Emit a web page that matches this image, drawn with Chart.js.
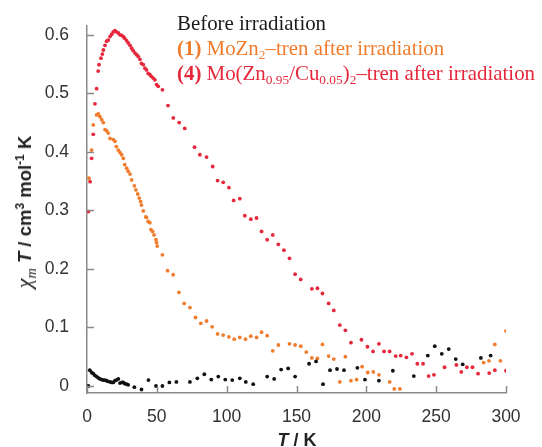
<!DOCTYPE html>
<html>
<head>
<meta charset="utf-8">
<script src="https://cdn.jsdelivr.net/npm/chart.js@4/dist/chart.umd.min.js"></script>
<style>
  body { margin: 0; background: #fff; }
  #wrap { position: relative; width: 542px; height: 447px; }
  .legend { position: absolute; left: 177px; top: 11px; font-family: 'Liberation Serif', serif; font-size: 20.9px; line-height: 25px; white-space: nowrap; }
  .legend sub { font-size: 0.64em; vertical-align: -0.3em; line-height: 0; }
  .ytitle { position: absolute; left: 24px; top: 212px; transform: translate(-50%, -50%) rotate(-90deg); white-space: nowrap; font: bold 18.5px 'Liberation Sans', sans-serif; color: #222; }
  .ytitle sup { font-size: 0.65em; vertical-align: 0.55em; line-height: 0; }
  .ytitle sub { font-size: 0.65em; vertical-align: -0.35em; line-height: 0; }
  .chi { font-family: 'Liberation Serif', serif; font-weight: normal; font-style: italic; font-size: 22px; }
  .xtitle { position: absolute; left: 297px; top: 440px; transform: translate(-50%, -50%); white-space: nowrap; font: bold 18px 'Liberation Sans', sans-serif; color: #222; }
</style>
</head>
<body>
<div id="wrap">
  <canvas id="chart" width="542" height="447"></canvas>
  <div class="legend">
    <div style="color:#1a1a1a">Before irradiation</div>
    <div style="color:#f07d2e"><b>(1)</b> MoZn<sub>2</sub>–tren after irradiation</div>
    <div style="color:#e6283c"><b>(4)</b> Mo(Zn<sub>0.95</sub>/Cu<sub>0.05</sub>)<sub>2</sub>–tren after irradiation</div>
  </div>
  <div class="ytitle"><span class="chi">χ<sub>m</sub></span> <i>T</i> / cm<sup>3</sup> mol<sup>-1</sup> K</div>
  <div class="xtitle"><i>T</i> / K</div>
</div>
<script>
// temperature (K) and chiT (cm3 mol-1 K)
const tBefore = [1, 2, 3.3, 4.5, 5.7, 6.9, 8, 9.3, 10.5, 11.7, 12.9, 14, 15, 16.5, 17.7, 18.8, 20, 21, 22.4, 23.6,
  25, 26, 27, 28.4, 29.5, 33.9, 39, 44, 49.4, 54, 59, 64, 73.7, 79, 84, 89, 94, 99, 104, 109.4,
  113.7, 119, 129, 134, 139, 144, 149, 159, 164, 169, 174, 179, 184, 193.6, 199, 209, 219, 234, 244, 249,
  254, 259, 264, 269, 282, 289];
const chiBefore = [0.0, 0.027, 0.023, 0.021, 0.018, 0.016, 0.014, 0.012, 0.011, 0.010, 0.010, 0.009, 0.008, 0.007, 0.006, 0.006, 0.009, 0.010, 0.012, 0.005,
  0.006, 0.006, 0.004, 0.003, 0.002, -0.002, -0.006, 0.010, 0.0, 0.0, 0.006, 0.007, 0.007, 0.013, 0.020, 0.011, 0.016, 0.011, 0.010, 0.013,
  0.007, 0.003, 0.016, 0.012, 0.028, 0.030, 0.016, 0.038, 0.042, 0.003, 0.027, 0.029, 0.027, 0.031, 0.011, 0.009, 0.026, 0.017, 0.052, 0.068,
  0.055, 0.063, 0.046, 0.037, 0.048, 0.052];

const tMoZn = [1.4, 3.3, 4.5, 6.9, 8.1, 9.3, 10.5, 11.7, 12.9, 14,
  15.2, 16.5, 18.8, 20, 21, 22.4, 23.6, 24.8, 26, 27,
  28.4, 29.5, 30.8, 32, 33.9, 35, 36.3, 37.4, 38.4, 39,
  40.3, 42, 42.6, 43.8, 45, 45.8, 47, 48, 49.4, 49.8,
  50.3, 54, 57.7, 61.7, 65.8, 69.6, 73.7, 77.7, 81.5, 85.6,
  89.6, 93.5, 97.5, 101.6, 105.4, 109.4, 113.5, 117.3, 121.4, 125,
  129, 133, 137, 145, 149, 153, 157, 161, 165, 168.6,
  173, 176.7, 181, 185, 189, 193, 197, 201, 205, 209,
  216.7, 220, 224, 284, 287.8, 292, 296, 300];
const chiMoZn = [0.355, 0.403, 0.446, 0.463, 0.465, 0.460, 0.455, 0.450, 0.438, 0.436,
  0.432, 0.423, 0.421, 0.418, 0.409, 0.403, 0.399, 0.395, 0.389, 0.378,
  0.372, 0.367, 0.362, 0.352, 0.342, 0.335, 0.328, 0.321, 0.315, 0.309,
  0.299, 0.289, 0.288, 0.281, 0.279, 0.267, 0.264, 0.258, 0.250, 0.245,
  0.239, 0.224, 0.197, 0.190, 0.160, 0.141, 0.134, 0.117, 0.107, 0.111,
  0.101, 0.089, 0.087, 0.084, 0.080, 0.083, 0.080, 0.085, 0.083, 0.092,
  0.086, 0.060, 0.070, 0.072, 0.070, 0.068, 0.058, 0.048, 0.047, 0.071,
  0.051, 0.046, 0.007, 0.050, 0.009, 0.011, 0.033, 0.023, 0.024, 0.019,
  0.007, -0.005, -0.005, 0.040, 0.043, 0.071, 0.043, 0.094];

const tMoZnCu = [1, 2.2, 3.3, 4.5, 5.7, 6.9, 8, 8.6, 10, 11,
  11.7, 12.9, 14, 15.2, 16.5, 17.7, 18.8, 20, 21, 22.4,
  23.6, 24.8, 26, 27, 28.4, 29.5, 30.8, 32, 33, 34.3,
  35.5, 36.7, 37.9, 39, 40.3, 41.5, 42.6, 43.8, 45, 46,
  47.4, 48.6, 49.8, 51, 54, 58, 61.8, 66, 70, 77,
  80.8, 85.6, 90, 93.5, 97.5, 101.6, 105, 109.4, 113, 117.3,
  121.4, 125, 129, 133, 137, 141, 145, 149, 153, 161,
  165, 168.6, 173, 176.7, 181, 185, 189, 196.5, 200.8, 204.8,
  209, 212.7, 216.7, 221, 224.6, 228.7, 232.7, 236.5, 240.6, 244.6,
  248.4, 256, 264.5, 268, 272, 276, 280, 288, 292, 300];
const chiMoZnCu = [0.298, 0.349, 0.389, 0.430, 0.482, 0.508, 0.538, 0.549, 0.560, 0.567,
  0.574, 0.582, 0.589, 0.591, 0.597, 0.601, 0.605, 0.607, 0.605, 0.603,
  0.600, 0.599, 0.597, 0.594, 0.590, 0.586, 0.582, 0.577, 0.573, 0.569,
  0.566, 0.563, 0.558, 0.551, 0.549, 0.543, 0.540, 0.534, 0.532, 0.529,
  0.526, 0.523, 0.515, 0.512, 0.506, 0.479, 0.458, 0.450, 0.440, 0.408,
  0.395, 0.391, 0.375, 0.351, 0.348, 0.339, 0.317, 0.320, 0.291, 0.285,
  0.287, 0.264, 0.250, 0.258, 0.242, 0.232, 0.218, 0.191, 0.182, 0.166,
  0.167, 0.158, 0.141, 0.129, 0.104, 0.095, 0.074, 0.079, 0.067, 0.059,
  0.072, 0.059, 0.059, 0.051, 0.052, 0.049, 0.055, 0.038, 0.038, 0.017,
  0.019, 0.032, 0.036, 0.024, 0.032, 0.032, 0.021, 0.022, 0.027, 0.026];

const xTicks = [0, 50, 100, 150, 200, 250, 300];
const yTicks = [0, 0.1, 0.2, 0.3, 0.4, 0.5, 0.6];

const toPoints = (xs, ys) => xs.map((x, i) => ({ x: x, y: ys[i] }));

const axisColor = '#8a8a8a';

// ticks point into the plot, so draw them here
const innerTicks = {
  id: 'innerTicks',
  afterDraw(chart) {
    const { ctx, chartArea: a, scales: { x, y } } = chart;
    ctx.save();
    ctx.strokeStyle = axisColor;
    ctx.lineWidth = 1.5;
    ctx.beginPath();
    xTicks.forEach(v => {
      const px = Math.round(x.getPixelForValue(v)) + 0.5;
      ctx.moveTo(px, a.bottom);
      ctx.lineTo(px, a.bottom - 7);
    });
    yTicks.forEach(v => {
      const py = Math.round(y.getPixelForValue(v)) + 0.5;
      ctx.moveTo(a.left, py);
      ctx.lineTo(a.left + 7, py);
    });
    ctx.stroke();
    ctx.restore();
  }
};

const tickFont = { family: "'Liberation Sans', Arial, sans-serif", size: 17.5 };

new Chart(document.getElementById('chart'), {
  type: 'scatter',
  data: {
    datasets: [
      { label: 'Before irradiation', data: toPoints(tBefore, chiBefore), backgroundColor: '#111111' },
      { label: '(1) MoZn2–tren after irradiation', data: toPoints(tMoZn, chiMoZn), backgroundColor: '#f07d2e' },
      { label: '(4) Mo(Zn0.95/Cu0.05)2–tren after irradiation', data: toPoints(tMoZnCu, chiMoZnCu), backgroundColor: '#e6283c' }
    ]
  },
  options: {
    responsive: false,
    animation: false,
    devicePixelRatio: 1,
    layout: { padding: { top: 26, right: 36, left: 0, bottom: 0 } },
    elements: { point: { radius: 1.9, borderWidth: 0, hoverRadius: 1.9 } },
    plugins: { legend: { display: false }, tooltip: { enabled: false } },
    scales: {
      x: {
        type: 'linear',
        min: 0, max: 300,
        afterFit: s => { s.height = 54; },
        afterBuildTicks: s => { s.ticks = xTicks.map(v => ({ value: v })); },
        grid: { display: false },
        border: { color: axisColor, width: 1.5 },
        ticks: { font: tickFont, color: '#333', padding: 6, maxRotation: 0 }
      },
      y: {
        type: 'linear',
        min: -0.012, max: 0.615,
        afterFit: s => { s.width = 87; },
        afterBuildTicks: s => { s.ticks = yTicks.map(v => ({ value: v })); },
        grid: { display: false },
        border: { color: axisColor, width: 1.5 },
        ticks: { font: tickFont, color: '#333', padding: 10, callback: v => String(Math.round(v * 10) / 10) }
      }
    }
  },
  plugins: [innerTicks]
});
</script>
</body>
</html>
